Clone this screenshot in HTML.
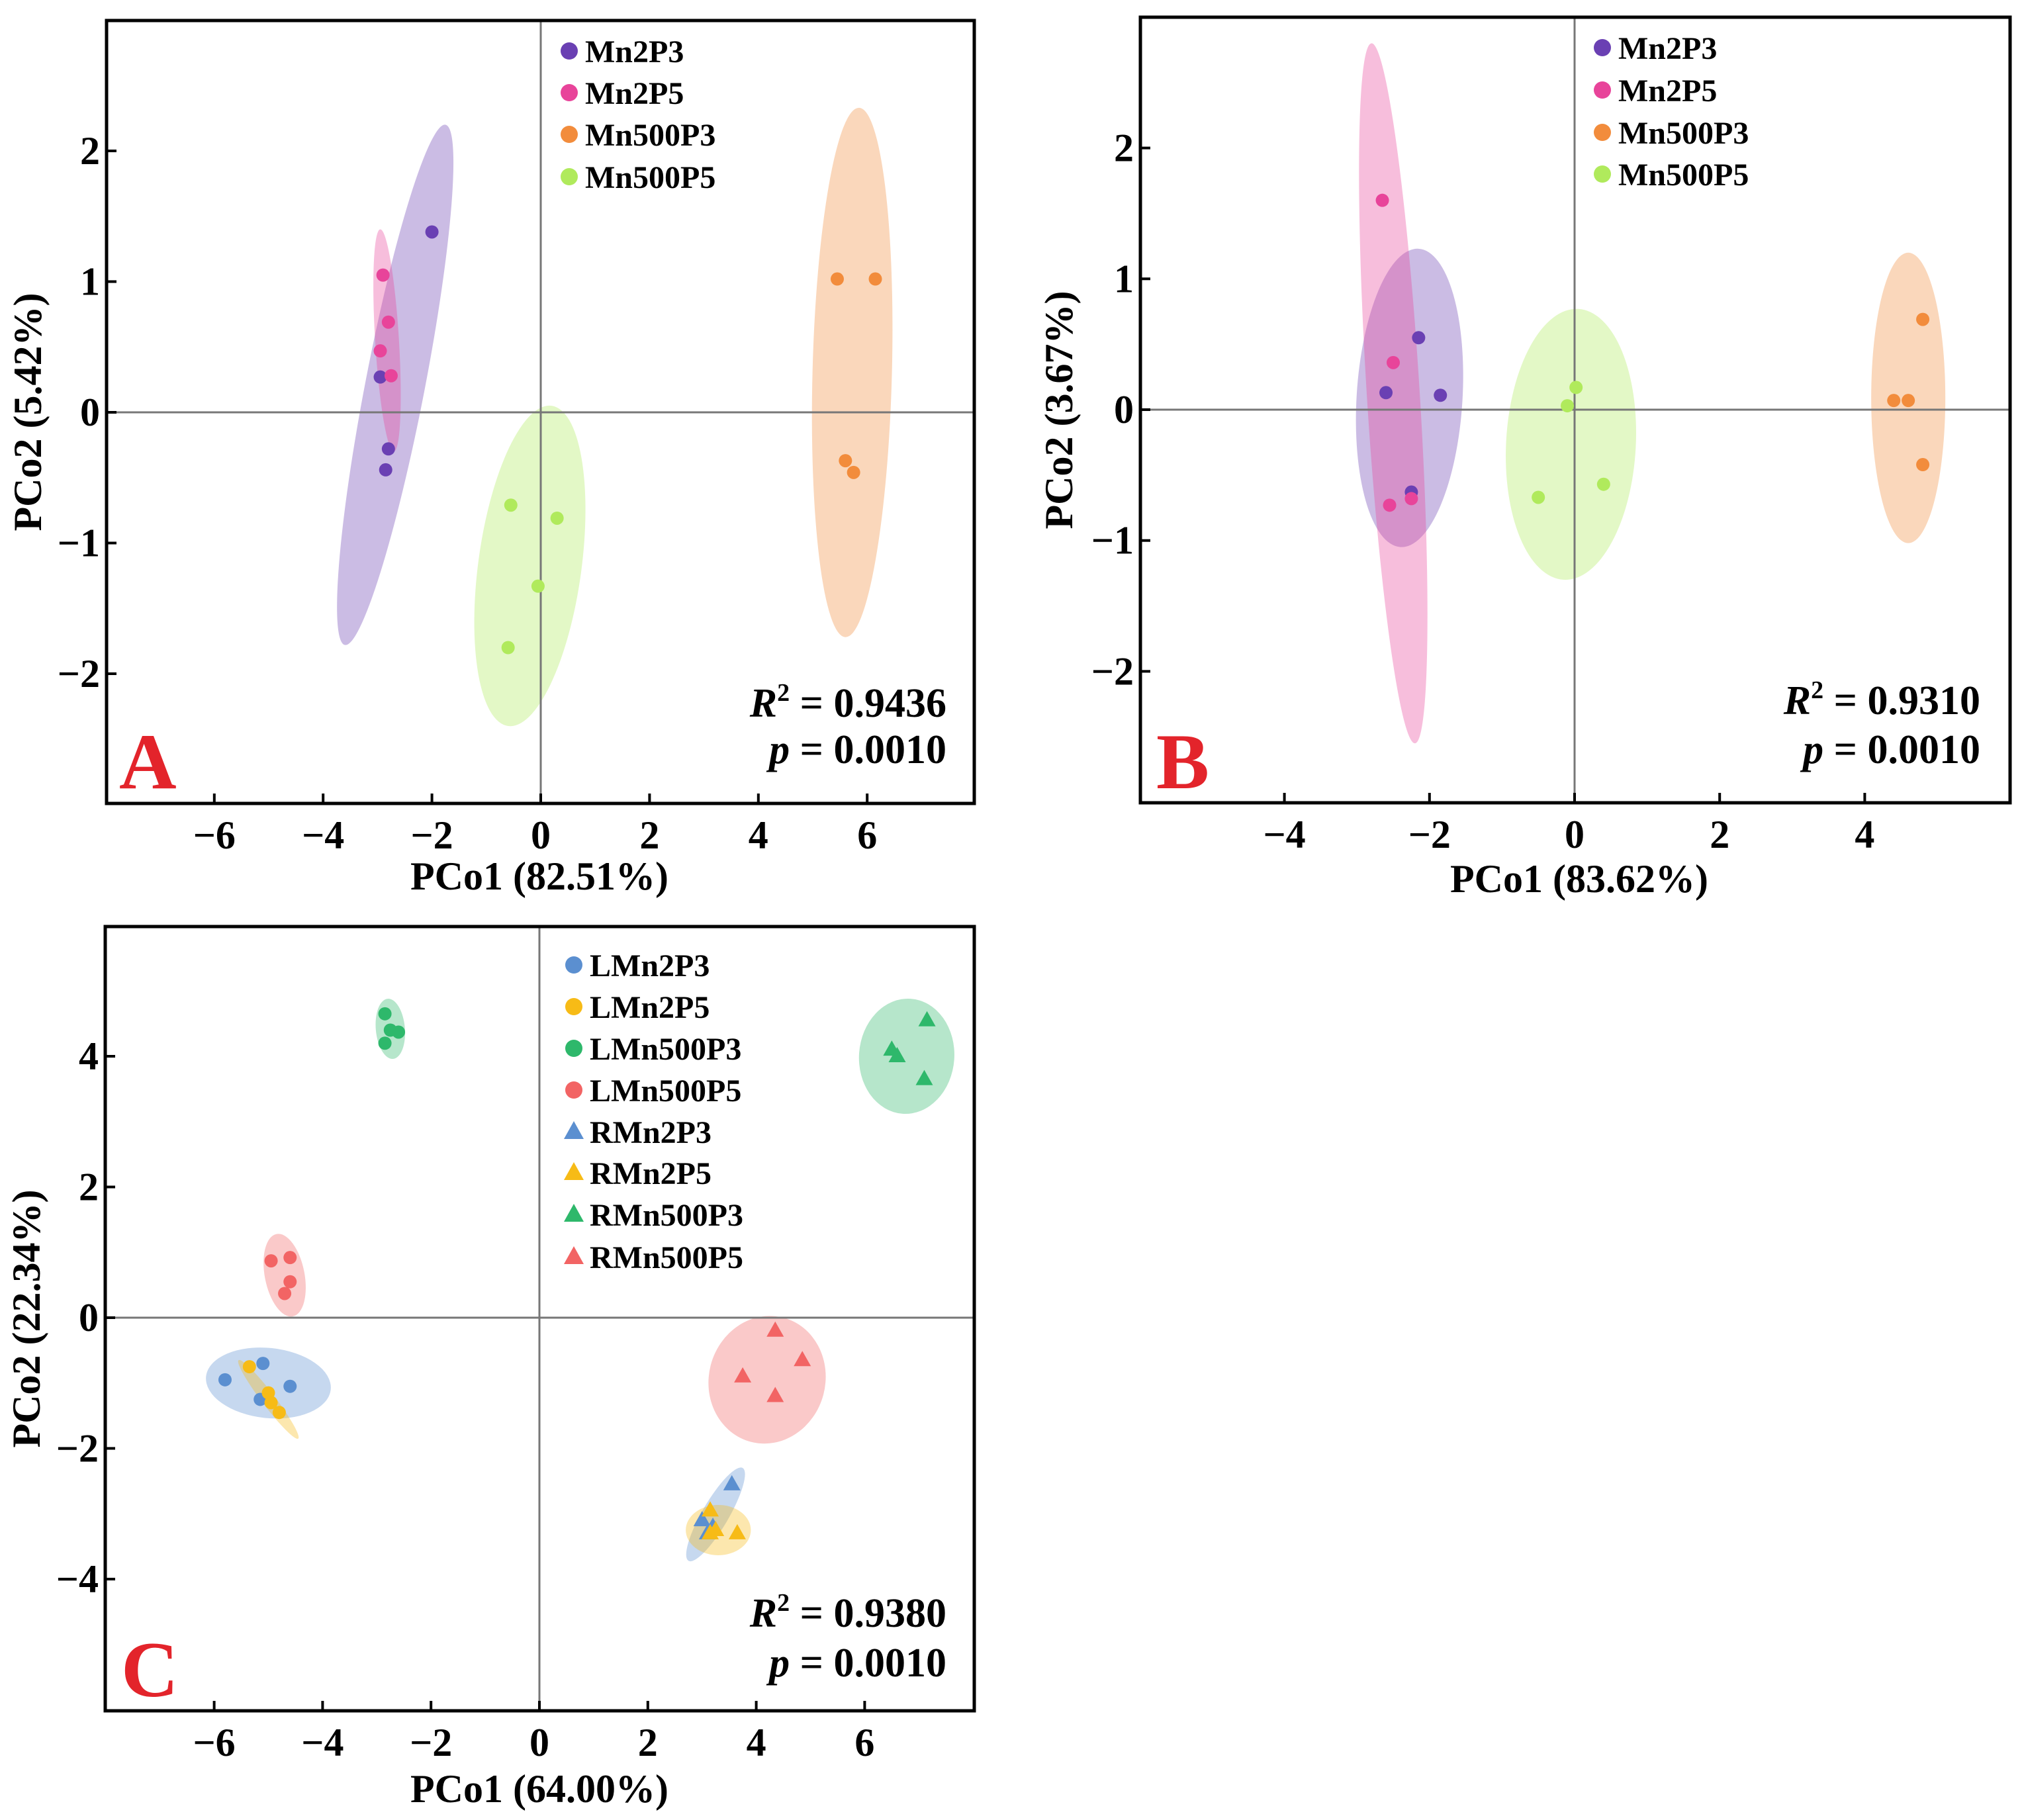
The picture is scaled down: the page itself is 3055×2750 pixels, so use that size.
<!DOCTYPE html>
<html><head><meta charset="utf-8">
<style>
html,body{margin:0;padding:0;background:#fff;}
svg{display:block;}
text{font-family:"Liberation Serif",serif;font-weight:bold;}
</style></head>
<body>
<svg id="fig" width="3055" height="2750" viewBox="0 0 3055 2750" xmlns="http://www.w3.org/2000/svg"></svg>
<script>
// ---------- Panel A data ----------
const aGroups = ["Mn2P3","Mn2P5","Mn500P3","Mn500P5"];
const aX = [[-2.0,-2.95,-2.8,-2.85],[-2.9,-2.8,-2.95,-2.75],[5.45,6.15,5.6,5.75],[-0.55,0.3,-0.05,-0.6]];
const aY = [[1.38,0.27,-0.28,-0.44],[1.05,0.69,0.47,0.28],[1.02,1.02,-0.37,-0.46],[-0.71,-0.81,-1.33,-1.8]];
const aEllA = [[-1.75,2.2],[-2.95,1.4],[5.85,2.33],[0.2,0.05]];
const aEllB = [[-3.6,-1.78],[-2.7,-0.3],[5.6,-1.72],[-0.6,-2.4]];
const aXTicks = [-6,-4,-2,0,2,4,6];
const aYTicks = [-2,-1,0,1,2];
// ---------- Panel B data ----------
const bGroups = ["Mn2P3","Mn2P5","Mn500P3","Mn500P5"];
const bX = [[-2.15,-2.6,-1.85,-2.25],[-2.65,-2.5,-2.55,-2.25],[4.8,4.4,4.6,4.8],[0.02,-0.1,-0.5,0.4]];
const bY = [[0.55,0.13,0.11,-0.63],[1.6,0.36,-0.73,-0.68],[0.69,0.07,0.07,-0.42],[0.17,0.03,-0.67,-0.57]];
const bEllA = [[-2.15,1.23],[-2.8,2.8],[4.6,1.2],[0.05,0.77]];
const bEllB = [[-2.4,-1.05],[-2.2,-2.55],[4.6,-1.02],[-0.15,-1.3]];
const bXTicks = [-4,-2,0,2,4];
const bYTicks = [-2,-1,0,1,2];
// ---------- Panel C data ----------
const cGroups = ["LMn2P3","LMn2P5","LMn500P3","LMn500P5","RMn2P3","RMn2P5","RMn500P3","RMn500P5"];
const cX = [[-5.8,-5.1,-4.6,-5.15],[-5.35,-5.0,-4.95,-4.8],[-2.85,-2.75,-2.6,-2.85],[-4.95,-4.6,-4.6,-4.7],
            [3.55,3.0,3.2,3.1],[3.15,3.15,3.65,3.25],[6.5,6.6,7.15,7.1],[4.35,4.85,3.75,4.35]];
const cY = [[-0.95,-0.7,-1.05,-1.25],[-0.75,-1.15,-1.3,-1.45],[4.65,4.4,4.37,4.2],[0.87,0.92,0.55,0.37],
            [-2.55,-3.1,-3.2,-3.3],[-2.95,-3.3,-3.3,-3.25],[4.1,4.0,4.55,3.65],[-0.2,-0.65,-0.9,-1.2]];
const cEllA = [[-6.15,-0.9],[-5.55,-0.65],[-2.8,4.88],[-4.85,1.28],[3.75,-2.3],[2.7,-3.25],[6.85,4.88],[4.5,0.0]];
const cEllB = [[-3.85,-1.1],[-4.45,-1.85],[-2.7,3.96],[-4.55,0.02],[2.75,-3.72],[3.9,-3.25],[6.7,3.12],[3.9,-1.9]];
const cXTicks = [-6,-4,-2,0,2,4,6];
const cYTicks = [-4,-2,0,2,4];

const NS="http://www.w3.org/2000/svg";
const svg=document.getElementById('fig');
function mk(tag,attrs,parent){const e=document.createElementNS(NS,tag);for(const k in attrs)e.setAttribute(k,attrs[k]);(parent||svg).appendChild(e);return e;}

function panel(cfg){
  const g=mk('g',{});
  
  
  const sx=v=>cfg.x0+v*cfg.ux, sy=v=>cfg.y0-v*cfg.uy;
  for(let i=0;i<cfg.groups.length;i++){
    const x1=sx(cfg.ea[i][0]),y1=sy(cfg.ea[i][1]),x2=sx(cfg.eb[i][0]),y2=sy(cfg.eb[i][1]);
    const cx=(x1+x2)/2,cy=(y1+y2)/2,rx=Math.hypot(x2-x1,y2-y1)/2;
    const ang=Math.atan2(y2-y1,x2-x1)*180/Math.PI;
    const e=mk('ellipse',{cx:cx,cy:cy,rx:rx,ry:cfg.halfw[i],fill:cfg.colors[i],'fill-opacity':0.35,transform:`rotate(${ang} ${cx} ${cy})`},g);
    
    
  }
  let l=mk('line',{x1:cfg.L,x2:cfg.R,y1:sy(0),y2:sy(0),stroke:'#777','stroke-width':3},g);
  
  
  l=mk('line',{x1:sx(0),x2:sx(0),y1:cfg.T,y2:cfg.B,stroke:'#777','stroke-width':3},g);
  
  
  for(let i=0;i<cfg.groups.length;i++){
    for(let j=0;j<cfg.xs[i].length;j++){
      const px=sx(cfg.xs[i][j]),py=sy(cfg.ys[i][j]);
      let p;
      if(cfg.shapes&&cfg.shapes[i]==='tri'){
        p=mk('polygon',{points:`${px},${py-14} ${px-13},${py+9} ${px+13},${py+9}`,fill:cfg.colors[i]},g);
      } else {
        p=mk('circle',{cx:px,cy:py,r:10,fill:cfg.colors[i]},g);
      }
      
      
    }
  }
  const f=mk('rect',{x:cfg.L,y:cfg.T,width:cfg.R-cfg.L,height:cfg.B-cfg.T,fill:'none',stroke:'#000','stroke-width':5},g);
  
  
  cfg.xt.forEach(v=>{
    const t=mk('line',{x1:sx(v),x2:sx(v),y1:cfg.B,y2:cfg.B-15,stroke:'#000','stroke-width':4},g);
    
    
    const tx=mk('text',{x:sx(v),y:cfg.B+68,'text-anchor':'middle','font-size':60},g);
    tx.textContent=(v<0?'\u2212'+(-v):''+v);
    
    
  });
  cfg.yt.forEach(v=>{
    const t=mk('line',{x1:cfg.L,x2:cfg.L+15,y1:sy(v),y2:sy(v),stroke:'#000','stroke-width':4},g);
    
    
    const tx=mk('text',{x:cfg.L-10,y:sy(v)+20,'text-anchor':'end','font-size':60},g);
    tx.textContent=(v<0?'\u2212'+(-v):''+v);
    
    
  });
  let t=mk('text',{x:cfg.xtX,y:cfg.xtY,'text-anchor':'middle','font-size':60},g);
  t.textContent=cfg.xtitle;
  
  
  t=mk('text',{x:0,y:0,'text-anchor':'middle','font-size':60,transform:`translate(${cfg.ytX},${(cfg.T+cfg.B)/2}) rotate(-90)`},g);
  t.textContent=cfg.ytitle;
  
  
  for(let i=0;i<cfg.groups.length;i++){
    const ly=cfg.legY[i];
    let m;
    if(cfg.shapes&&cfg.shapes[i]==='tri'){
      m=mk('polygon',{points:`${cfg.legX},${ly-16} ${cfg.legX-15},${ly+11} ${cfg.legX+15},${ly+11}`,fill:cfg.colors[i]},g);
    } else {
      m=mk('circle',{cx:cfg.legX,cy:ly,r:13,fill:cfg.colors[i]},g);
    }
    
    
    const lt=mk('text',{x:cfg.legX+24,y:ly+17,'font-size':48},g);
    lt.textContent=cfg.groups[i];
    
    
  }
  t=mk('text',{x:cfg.statX,y:cfg.statY1,'text-anchor':'end','font-size':62},g);
  t.innerHTML='<tspan font-style="italic">R</tspan><tspan font-size="38" dy="-24">2</tspan><tspan dy="24"> = '+cfg.r2+'</tspan>';
  
  
  t=mk('text',{x:cfg.statX,y:cfg.statY2,'text-anchor':'end','font-size':62},g);
  t.innerHTML='<tspan font-style="italic">p</tspan> = '+cfg.p;
  
  
  t=mk('text',{x:cfg.letX,y:cfg.letY,'font-size':120,fill:'#e3242b'},g);
  t.textContent=cfg.letter;
  
  
}

const col4=["#6a40b3","#e8449a","#f28c3c","#b0ea5c"];
panel({name:'panel-a',groups:aGroups,xs:aX,ys:aY,ea:aEllA,eb:aEllB,halfw:[45,18,60,78],colors:col4,
  L:161,R:1472,T:31,B:1214,x0:817,ux:82.2,y0:623,uy:197.5,xt:aXTicks,yt:aYTicks,
  xtitle:'PCo1 (82.51%)',ytitle:'PCo2 (5.42%)',xtX:815,xtY:1344,ytX:62,
  legX:860,legY:[77,140,203,267],r2:'0.9436',p:'0.0010',statX:1430,statY1:1083,statY2:1153,letter:'A',letX:180,letY:1191});
panel({name:'panel-b',groups:bGroups,xs:bX,ys:bY,ea:bEllA,eb:bEllB,halfw:[80,40,56,98],colors:col4,
  L:1723,R:3037,T:26,B:1213,x0:2379,ux:109.6,y0:619,uy:197.7,xt:bXTicks,yt:bYTicks,
  xtitle:'PCo1 (83.62%)',ytitle:'PCo2 (3.67%)',xtX:2386,xtY:1348,ytX:1620,
  legX:2421,legY:[72,136,200,263],r2:'0.9310',p:'0.0010',statX:2992,statY1:1079,statY2:1153,letter:'B',letX:1747,letY:1191});
panel({name:'panel-c',groups:cGroups,xs:cX,ys:cY,ea:cEllA,eb:cEllB,halfw:[53,10,22,30,20,38,72,88],
  colors:["#5b8fd0","#f7bb16","#2eb86b","#f26464","#5b8fd0","#f7bb16","#2eb86b","#f26464"],
  shapes:['c','c','c','c','tri','tri','tri','tri'],
  L:159,R:1472,T:1400,B:2585,x0:815,ux:81.9,y0:1991,uy:98.75,xt:cXTicks,yt:cYTicks,
  xtitle:'PCo1 (64.00%)',ytitle:'PCo2 (22.34%)',xtX:815,xtY:2723,ytX:60,
  legX:867,legY:[1458,1521,1584,1647,1710,1772,1835,1899],r2:'0.9380',p:'0.0010',statX:1430,statY1:2458,statY2:2533,letter:'C',letX:183,letY:2563});
</script>
</body></html>
